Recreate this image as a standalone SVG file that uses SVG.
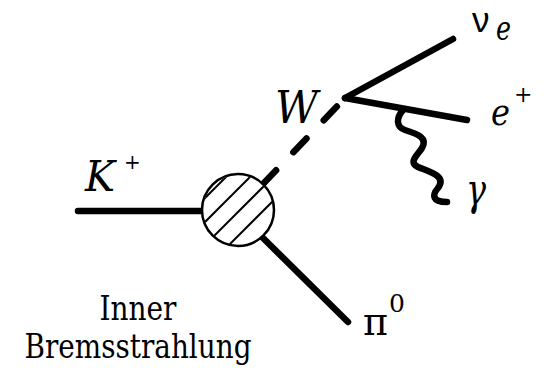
<svg xmlns="http://www.w3.org/2000/svg" width="551" height="371" viewBox="0 0 551 371">
  <style>
    .ln { stroke: #000; stroke-width: 6.5; stroke-linecap: round; fill: none; }
    .hatch { stroke: #000; stroke-width: 2; }
    .math { font-family: 'DejaVu Serif', serif; font-style: italic; fill: #000; }
    .rm { font-family: 'DejaVu Serif', serif; fill: #000; }
    .sans { font-family: 'Liberation Sans', 'DejaVu Sans', sans-serif; fill: #000; }
  </style>
  <defs>
    <clipPath id="blobClip"><circle cx="238" cy="210" r="35"/></clipPath>
  </defs>
  <rect width="551" height="371" fill="#fff"/>

  <g id="connectors">
    <line class="ln" x1="78" y1="211" x2="203" y2="211"/>
    <line class="ln" x1="263" y1="184" x2="345" y2="98" stroke-dasharray="19 25"/>
    <line class="ln" x1="345" y1="98" x2="453" y2="39"/>
    <line class="ln" x1="345" y1="98" x2="467" y2="120"/>
    <line class="ln" x1="262" y1="237" x2="348" y2="322"/>
    <path class="ln" d="M403,110 C396,118 396,127 405,130 C418,134 428,138 422,148 C417,156 408,162 418,167 C430,172 447,176 438,188 C432,195 432,202 447,202"/>
  </g>

  <g id="blob">
    <circle cx="238" cy="210" r="36" fill="#fff"/>
    <g clip-path="url(#blobClip)">
      <line class="hatch" x1="183" y1="220" x2="243" y2="160"/>
      <line class="hatch" x1="187" y1="240" x2="267" y2="160"/>
      <line class="hatch" x1="199" y1="251" x2="289" y2="161"/>
      <line class="hatch" x1="222" y1="252" x2="292" y2="182"/>
    </g>
    <circle cx="238" cy="210" r="36" fill="none" stroke="#000" stroke-width="2.5"/>
  </g>

  <g id="K">
    <text class="math" x="85" y="191" font-size="42" textLength="30" lengthAdjust="spacingAndGlyphs">K</text>
    <text class="rm" x="124" y="169" font-size="20">+</text>
  </g>

  <g id="W">
    <text class="math" x="275" y="123" font-size="44" textLength="43" lengthAdjust="spacingAndGlyphs">W</text>
  </g>

  <g id="nu_e">
    <text class="sans" x="472" y="32" font-size="35">ν</text>
    <text class="math" x="496" y="40" font-size="33" textLength="15" lengthAdjust="spacingAndGlyphs">e</text>
  </g>

  <g id="e_plus">
    <text class="math" x="491" y="125" font-size="38" textLength="19" lengthAdjust="spacingAndGlyphs">e</text>
    <text class="rm" x="514" y="102" font-size="22">+</text>
  </g>

  <g id="gamma">
    <text class="math" x="466" y="205" font-size="44" textLength="20" lengthAdjust="spacingAndGlyphs">γ</text>
  </g>

  <g id="pi0">
    <text class="rm" x="363" y="335" font-size="40" textLength="25" lengthAdjust="spacingAndGlyphs">π</text>
    <text class="rm" x="389" y="312" font-size="25">0</text>
  </g>

  <g id="caption">
    <text class="rm" x="138" y="320" font-size="34" text-anchor="middle" textLength="77" lengthAdjust="spacingAndGlyphs">Inner</text>
    <text class="rm" x="138" y="358" font-size="34" text-anchor="middle" textLength="227" lengthAdjust="spacingAndGlyphs">Bremsstrahlung</text>
  </g>
</svg>
